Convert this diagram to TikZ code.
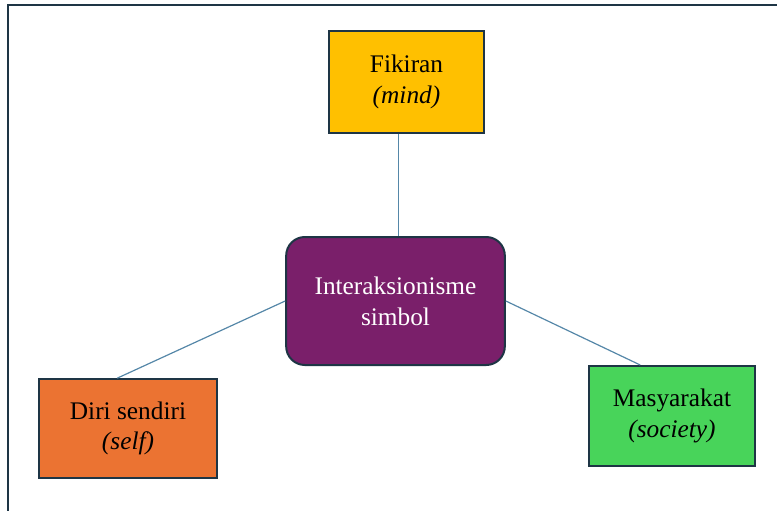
\documentclass[tikz,border=0pt]{standalone}
\usepackage{fontspec}
\setmainfont{Liberation Serif}
\usetikzlibrary{calc}
\definecolor{rim}{HTML}{1E3545}
\definecolor{wire}{HTML}{5587A8}
\definecolor{kuning}{HTML}{FFC000}
\definecolor{ungu}{HTML}{7A1F6A}
\definecolor{jingga}{HTML}{EB7332}
\definecolor{hijau}{HTML}{48D45A}

\begin{document}
\begin{tikzpicture}[x=0.75pt,y=-0.75pt,
    kotak/.style={draw=rim,line width=1.5pt,align=center,inner sep=0pt,
        font=\fontsize{19}{23}\selectfont},
    garis/.style={draw=wire,line width=0.9pt}]
        \useasboundingbox (0,0) rectangle (777,510);
        \draw[rim,line width=1.5pt] (8,5) rectangle (800,530);
        \node[kotak,fill=kuning,minimum width=116pt,minimum height=76pt] (fik) at (406.5,82) {Fikiran\\\textit{(mind)}};
        \node[kotak,fill=ungu,text=white,rounded corners=14pt,minimum width=164pt,minimum height=96pt] (inter) at (395.5,301) {Interaksionisme\\simbol};
        \node[kotak,fill=jingga,minimum width=133pt,minimum height=74pt] (diri) at (128,428.5) {Diri sendiri\\\textit{(self)}};
        \node[kotak,fill=hijau,minimum width=124pt,minimum height=75pt] (masy) at (672,416) {Masyarakat\\\textit{(society)}};
        % penghubung
        \draw[garis] ($(inter.north |- fik.south)+(3,0)$) -- ($(inter.north)+(3,0)$);
        \draw[garis] (inter.west) -- ($(diri.north west)!0.44!(diri.north east)$);
        \draw[garis] (inter.east) -- ($(masy.north west)!0.31!(masy.north east)$);
    \end{tikzpicture}
\end{document}
